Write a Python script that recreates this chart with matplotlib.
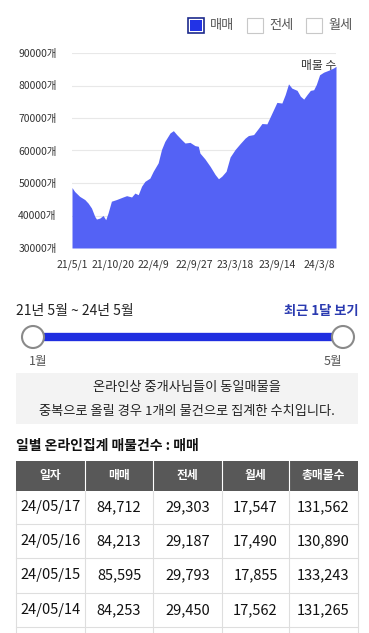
import matplotlib
matplotlib.use('Agg')
import matplotlib.pyplot as plt
from matplotlib.patches import Rectangle, Circle
import pandas as pd

plt.rcParams['font.family'] = ['Noto Sans CJK KR', 'DejaVu Sans']

# 매매 매물 수
dates = ['2021-05-01', '2021-05-12', '2021-06-02', '2021-06-24', '2021-07-08', '2021-07-22',
         '2021-08-05', '2021-08-12', '2021-08-26', '2021-09-09', '2021-09-20', '2021-09-30',
         '2021-10-14', '2021-11-04', '2021-12-02', '2021-12-17', '2022-01-07', '2022-01-21',
         '2022-02-04', '2022-02-18', '2022-03-04', '2022-03-25', '2022-04-08', '2022-04-29',
         '2022-05-13', '2022-05-27', '2022-06-18', '2022-07-02', '2022-07-16', '2022-08-06',
         '2022-08-20', '2022-09-10', '2022-10-01', '2022-10-15', '2022-10-22', '2022-11-12',
         '2022-12-04', '2022-12-25', '2023-01-08', '2023-01-22', '2023-02-09', '2023-02-26',
         '2023-03-19', '2023-04-09', '2023-04-30', '2023-05-14', '2023-06-05', '2023-06-26',
         '2023-07-10', '2023-07-31', '2023-08-21', '2023-09-11', '2023-10-02', '2023-10-16',
         '2023-10-30', '2023-11-13', '2023-12-05', '2023-12-19', '2024-01-02', '2024-01-16',
         '2024-01-30', '2024-02-13', '2024-02-24', '2024-03-09', '2024-03-26', '2024-04-16',
         '2024-05-07', '2024-05-17']
values = [48600, 47400, 45900, 44900, 43800, 42300,
          39700, 38900, 39200, 40000, 38700, 40800,
          44400, 44900, 45700, 46100, 45700, 46900,
          46400, 49000, 50500, 51500, 53600, 56200,
          60300, 62800, 65400, 66100, 64900, 63300,
          62300, 62500, 61500, 61300, 59200, 57400,
          55100, 52600, 51300, 52100, 53600, 58000,
          60300, 62100, 63800, 64600, 64900, 66900,
          68300, 68200, 71500, 74800, 74600, 77200,
          80500, 79200, 78500, 76700, 75800, 77200,
          78500, 78700, 80300, 83300, 84100, 84700,
          85400, 85900]
tick_dates = ['2021-05-01', '2021-10-20', '2022-04-09', '2022-09-27', '2023-03-18', '2023-09-14', '2024-03-08']
tick_labels = ['21/5/1', '21/10/20', '22/4/9', '22/9/27', '23/3/18', '23/9/14', '24/3/8']
y_ticks = [30000, 40000, 50000, 60000, 70000, 80000, 90000]

legend_labels = ['매매', '전세', '월세']

# 일별 표
col_names = ['일자', '매매', '전세', '월세', '총매물수']
row_dates = ['24/05/17', '24/05/16', '24/05/15', '24/05/14']
sale = [84712, 84213, 85595, 84253]
jeonse = [29303, 29187, 29793, 29450]
wolse = [17547, 17490, 17855, 17562]
total = [131562, 130890, 133243, 131265]

W, H = 369, 633
fig = plt.figure(figsize=(W / 100, H / 100), dpi=100)

# 픽셀 좌표용 배경 축
bg = fig.add_axes([0, 0, 1, 1])
bg.set_xlim(0, W)
bg.set_ylim(H, 0)
bg.axis('off')

# 차트
L, R, T, B = 72, 336, 53, 248
ax = fig.add_axes([L / W, (H - B) / H, (R - L) / W, (B - T) / H])
x = pd.to_datetime(dates)
ax.fill_between(x, values, 30000, color='#5462f5', linewidth=0)
ax.set_xlim(pd.Timestamp('2021-05-01'), pd.Timestamp('2024-05-17'))
ax.set_ylim(30000, 90000)
ax.set_yticks(y_ticks)
ax.set_yticklabels([f'{v}개' for v in y_ticks])
ax.set_xticks(pd.to_datetime(tick_dates))
ax.set_xticklabels(tick_labels)
ax.tick_params(length=0, labelsize=7.5, labelcolor='#333333')
ax.tick_params(axis='y', pad=11)
ax.tick_params(axis='x', pad=8)
ax.grid(axis='y', color='#e8e8e8', linewidth=0.8)
ax.set_axisbelow(True)
for s in ax.spines.values():
    s.set_visible(False)
ax.text(1.0, 0.935, '매물 수', transform=ax.transAxes, ha='right', va='center',
        fontsize=8.5, color='#333333')

# 범례
leg_x = [188, 247, 306]
for i, lab in enumerate(legend_labels):
    if i == 0:
        bg.add_patch(Rectangle((leg_x[i], 18), 16, 15, facecolor='white', edgecolor='#1c2a8c', linewidth=1.2))
        bg.add_patch(Rectangle((leg_x[i] + 2, 20), 12, 11, facecolor='#2233e6', edgecolor='none'))
    else:
        bg.add_patch(Rectangle((leg_x[i], 18), 16, 15, facecolor='white', edgecolor='#c8c8c8', linewidth=0.8))
    bg.text(leg_x[i] + 22, 25.5, lab, ha='left', va='center', fontsize=9.5, color='#555555')

# 기간 / 슬라이더
bg.text(16, 311, '21년 5월 ~ 24년 5월', ha='left', va='center', fontsize=10, color='#222222', fontweight='medium')
bg.text(358, 311, '최근 1달 보기', ha='right', va='center', fontsize=9.5, color='#2a3ab0', fontweight='bold')
bg.plot([33, 343], [337, 337], color='#1f2ee0', linewidth=6, solid_capstyle='butt')
for cx in (33, 343):
    bg.add_patch(Circle((cx, 337), 11, facecolor='white', edgecolor='#8a8a8a', linewidth=1.5, zorder=3))
bg.text(38, 361, '1월', ha='center', va='center', fontsize=9, color='#555555')
bg.text(333, 361, '5월', ha='center', va='center', fontsize=9, color='#555555')

# 안내 박스
bg.add_patch(Rectangle((16, 373), 342, 51, facecolor='#f3f3f3', edgecolor='none'))
bg.text(187, 388, '온라인상 중개사님들이 동일매물을', ha='center', va='center', fontsize=9.5, color='#222222')
bg.text(187, 411, '중복으로 올릴 경우 1개의 물건으로 집계한 수치입니다.', ha='center', va='center',
        fontsize=9.5, color='#222222')

bg.text(16, 446, '일별 온라인집계 매물건수 : 매매', ha='left', va='center', fontsize=10,
        color='#111111', fontweight='bold')

# 표
col_edges = [16, 85, 153, 222, 289, 358]
row_edges = [491, 524, 558, 593, 627]
bg.add_patch(Rectangle((16, 461), 342, 30, facecolor='#585858', edgecolor='none'))
for i, name in enumerate(col_names):
    cx = (col_edges[i] + col_edges[i + 1]) / 2
    bg.text(cx, 476, name, ha='center', va='center', fontsize=8.5, color='white', fontweight='bold')
for e in col_edges[1:-1]:
    bg.plot([e, e], [461, 491], color='white', linewidth=0.8)
for e in col_edges:
    bg.plot([e, e], [491, H], color='#dedede', linewidth=0.8)
for r in row_edges[1:]:
    bg.plot([16, 358], [r, r], color='#dedede', linewidth=0.8)

columns = [row_dates,
           [f'{v:,}' for v in sale],
           [f'{v:,}' for v in jeonse],
           [f'{v:,}' for v in wolse],
           [f'{v:,}' for v in total]]
for j, col in enumerate(columns):
    cx = (col_edges[j] + col_edges[j + 1]) / 2
    for i, txt in enumerate(col):
        cy = (row_edges[i] + row_edges[i + 1]) / 2
        bg.text(cx, cy, txt, ha='center', va='center', fontsize=10.5, color='#111111')

fig.savefig('out.png', dpi=100)
